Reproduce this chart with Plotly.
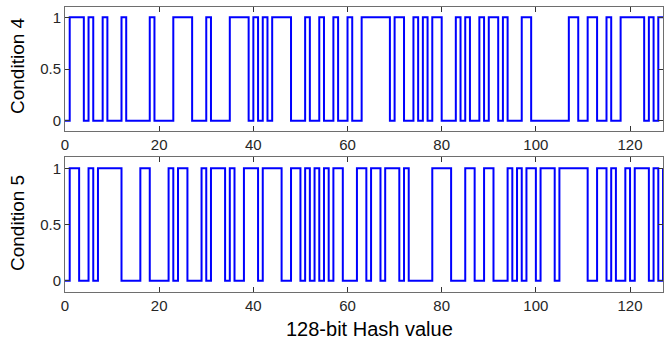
import plotly.graph_objects as go

# bit positions (hash bit index)
bit_index = list(range(128))

# Condition 4 hash bits
cond4_bits = [
    0,1,1,1,0,1,0,0,1,0,0,0,1,0,0,0,
    0,0,1,0,0,0,0,1,1,1,1,0,0,0,1,0,
    0,0,0,1,1,1,1,0,1,0,1,0,1,1,1,1,
    0,0,0,1,0,0,1,0,0,1,0,0,1,0,0,1,
    1,1,1,1,1,0,1,1,0,0,1,0,1,0,1,1,
    0,0,0,1,0,1,0,0,1,0,1,1,0,1,0,0,
    0,1,1,0,0,0,0,0,0,0,0,1,1,0,0,1,
    1,0,0,1,0,0,1,1,1,1,1,0,1,0,1,1,
]

# Condition 5 hash bits
cond5_bits = [
    0,1,1,0,0,1,0,1,1,1,1,1,0,0,0,0,
    1,1,0,0,0,0,1,0,1,1,0,0,0,1,0,1,
    1,1,0,1,0,0,1,1,1,0,1,1,1,1,0,0,
    1,1,0,1,0,1,0,1,0,1,1,0,0,0,1,1,
    0,1,1,0,1,1,1,0,1,0,0,0,0,0,1,1,
    1,1,0,0,0,1,1,0,0,1,1,0,0,0,1,0,
    1,0,1,1,0,1,1,1,0,1,1,1,1,1,1,0,
    0,1,1,0,1,0,0,1,0,1,1,1,0,1,0,1,
]

x_tickvals = [0, 20, 40, 60, 80, 100, 120]
y_tickvals = [0, 0.5, 1]
y_ticktext = ["0", "0.5", "1"]
y_labels = ["Condition 4", "Condition 5"]
x_label = "128-bit Hash value"

W, H = 665, 345
ML, MR, MT, MB = 65, 2, 7, 53
PW, PH = W - ML - MR, H - MT - MB

def py(px):
    return (H - MB - px) / PH

def pxx(px):
    return (px - ML) / PW

fig = go.Figure()
fig.add_trace(go.Scatter(x=bit_index, y=cond4_bits, mode="lines", line_shape="hv",
                         line=dict(color="#0000FF", width=2), xaxis="x", yaxis="y",
                         showlegend=False))
fig.add_trace(go.Scatter(x=bit_index, y=cond5_bits, mode="lines", line_shape="hv",
                         line=dict(color="#0000FF", width=2), xaxis="x2", yaxis="y2",
                         showlegend=False))

font_tick = dict(family="Arial, Liberation Sans, sans-serif", size=15, color="#262626")
axis_common = dict(showline=True, linecolor="#6e6e6e", linewidth=1, mirror="allticks",
                   ticks="inside", ticklen=5, tickcolor="#333333", tickwidth=1,
                   showgrid=False, zeroline=False, tickfont=font_tick)

fig.update_layout(
    width=W, height=H,
    margin=dict(l=ML, r=MR, t=MT, b=MB),
    paper_bgcolor="white", plot_bgcolor="white",
    xaxis=dict(domain=[0, 1], anchor="y", range=[0, 127], tickvals=x_tickvals, **axis_common),
    yaxis=dict(domain=[py(131), 1], anchor="x", range=[-0.1, 1.1], tickvals=y_tickvals,
               ticktext=y_ticktext, **axis_common),
    xaxis2=dict(domain=[0, 1], anchor="y2", range=[0, 127], tickvals=x_tickvals, **axis_common),
    yaxis2=dict(domain=[0, py(157)], anchor="x2", range=[-0.1, 1.1], tickvals=y_tickvals,
                ticktext=y_ticktext, **axis_common),
)

ylab_font = dict(family="Arial, Liberation Sans, sans-serif", size=19, color="#000000")
xlab_font = dict(family="Arial, Liberation Sans, sans-serif", size=20, color="#000000")
fig.add_annotation(text=y_labels[0], xref="paper", yref="paper", x=pxx(17), y=py(66),
                   textangle=-90, showarrow=False, font=ylab_font,
                   xanchor="center", yanchor="middle")
fig.add_annotation(text=y_labels[1], xref="paper", yref="paper", x=pxx(17), y=py(223),
                   textangle=-90, showarrow=False, font=ylab_font,
                   xanchor="center", yanchor="middle")
fig.add_annotation(text=x_label, xref="paper", yref="paper", x=pxx(369), y=py(329),
                   showarrow=False, font=xlab_font, xanchor="center", yanchor="middle")

fig.write_html("out.html")
